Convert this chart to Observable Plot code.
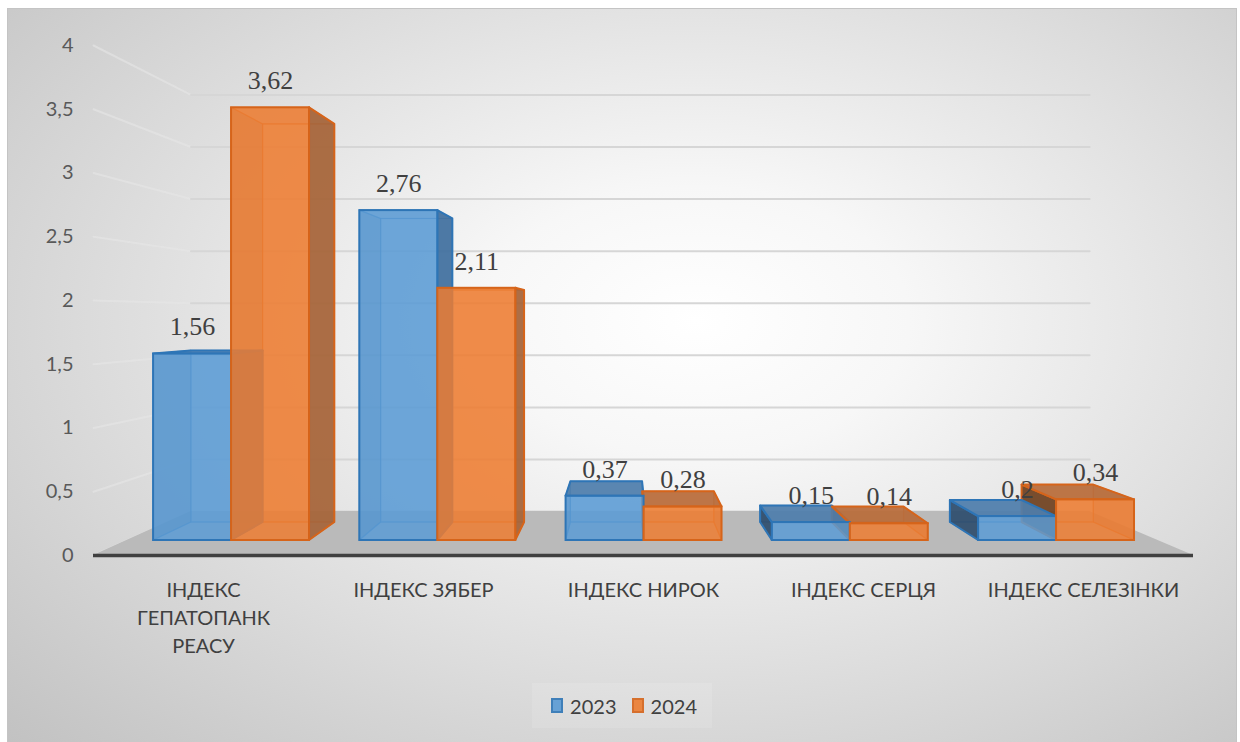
<!DOCTYPE html>
<html>
<head>
<meta charset="utf-8">
<script src="https://cdn.jsdelivr.net/npm/d3@7"></script>
<script src="https://cdn.jsdelivr.net/npm/@observablehq/plot@0.6"></script>
<style>
  html, body { margin: 0; padding: 0; width: 1240px; height: 742px; overflow: hidden; background: #ffffff; font-family: Lato, "Open Sans", sans-serif; }
  #bg { position: absolute; left: 7px; top: 8px; width: 1230px; height: 745px; box-sizing: border-box;
        border: 1.5px solid #c4c4c4;
        background: radial-gradient(ellipse farthest-corner at 56% 42%, #ffffff 0%, #f7f7f7 22%, #c1c1c1 100%); }
  #chart { position: absolute; left: 0; top: 0; width: 1240px; }
  #legend { position: absolute; left: 532px; top: 683px; width: 180px; height: 45px; box-sizing: border-box;
            background: rgba(255,255,255,0.12); display: flex; align-items: center; padding-left: 19px;
            font-family: Lato, sans-serif; font-size: 20px; color: #404040; }
  .sw { width: 11px; height: 11px; border: 2px solid; box-sizing: content-box; }
  .lab { margin-left: 7px; margin-right: 15px; }
</style>
</head>
<body>
<div id="bg"></div>
<div id="chart"></div>
<div id="legend"></div>
<script>
// ---------- data ----------
const categories = ["ІНДЕКС ГЕПАТОПАНКРЕАСУ", "ІНДЕКС ЗЯБЕР", "ІНДЕКС НИРОК", "ІНДЕКС СЕРЦЯ", "ІНДЕКС СЕЛЕЗІНКИ"];
const categoryLabels = ["ІНДЕКС\nГЕПАТОПАНК\nРЕАСУ", "ІНДЕКС ЗЯБЕР", "ІНДЕКС НИРОК", "ІНДЕКС СЕРЦЯ", "ІНДЕКС СЕЛЕЗІНКИ"];
const series = ["2023", "2024"];
const values2023 = [1.56, 2.76, 0.37, 0.15, 0.2];
const values2024 = [3.62, 2.11, 0.28, 0.14, 0.34];
const yTicks = [0, 0.5, 1, 1.5, 2, 2.5, 3, 3.5, 4];
const yTickLabels = ["0", "0,5", "1", "1,5", "2", "2,5", "3", "3,5", "4"];

// ---------- style / view ----------
const STYLE = {
  "2023": {fill: "#5b9bd5", stroke: "#2e75b6", left: "#2f4d6d", right: "#41709e", top: "#4f7eab"},
  "2024": {fill: "#ed7d31", stroke: "#d6641a", left: "#6f4122", right: "#a5643a", top: "#b86c3c"}
};
// perspective view: vanishing point in data coords and depth scale factors
const VIEW = {Xc: 2.42, Vc: 1.882, sFront: 0.9375, sBack: 0.8625, sWall: 0.817, barStart: 0.13, barWidth: 0.378};
const {Xc, Vc, sFront, sBack, sWall, barStart, barWidth} = VIEW;
const px = (X, s) => Xc + (X - Xc) * s;
const pv = (V, s) => Vc + (V - Vc) * s;
const nCat = categories.length;

// ---------- derived geometry (through data space) ----------
const bars = [];
categories.forEach((c, i) => {
  [values2023, values2024].forEach((vals, j) => {
    const xl = i + barStart + j * barWidth;
    bars.push({cat: c, series: series[j], i, j, xl, xr: xl + barWidth, v: vals[i]});
  });
});

const gridLeft = [], gridBack = [];
yTicks.forEach(v => {
  gridLeft.push({id: v, x: px(0, 1), y: pv(v, 1)}, {id: v, x: px(0, sWall), y: pv(v, sWall)});
  gridBack.push({id: v, x: px(0, sWall), y: pv(v, sWall)}, {id: v, x: px(nCat, sWall), y: pv(v, sWall)});
});
const floor = [
  {id: "f", y: pv(0, 1), x1: px(0, 1), x2: px(nCat, 1)},
  {id: "f", y: pv(0, sWall), x1: px(0, sWall), x2: px(nCat, sWall)}
];

const sideVis = [], sideHid = [], topVis = [], topHid = [], bottoms = [], fronts = [], backs = [];
bars.forEach((b, k) => {
  const st = STYLE[b.series];
  const side = (X, id, color) => [
    {id, x: px(X, sFront), y1: pv(0, sFront), y2: pv(b.v, sFront), fill: color, stroke: st.stroke},
    {id, x: px(X, sBack), y1: pv(0, sBack), y2: pv(b.v, sBack), fill: color, stroke: st.stroke}
  ];
  (b.xl > Xc ? sideVis : sideHid).push(...side(b.xl, "L" + k, st.left));
  (b.xr < Xc ? sideVis : sideHid).push(...side(b.xr, "R" + k, st.right));
  const top = [
    {id: "T" + k, y: pv(b.v, sFront), x1: px(b.xl, sFront), x2: px(b.xr, sFront), fill: st.top, stroke: st.stroke},
    {id: "T" + k, y: pv(b.v, sBack), x1: px(b.xl, sBack), x2: px(b.xr, sBack), fill: st.top, stroke: st.stroke}
  ];
  (b.v < Vc ? topVis : topHid).push(...top);
  bottoms.push(
    {id: "B" + k, y: pv(0, sFront), x1: px(b.xl, sFront), x2: px(b.xr, sFront), stroke: st.stroke},
    {id: "B" + k, y: pv(0, sBack), x1: px(b.xl, sBack), x2: px(b.xr, sBack), stroke: st.stroke}
  );
  fronts.push({x1: px(b.xl, sFront), x2: px(b.xr, sFront), y1: pv(0, sFront), y2: pv(b.v, sFront),
               fill: st.fill, stroke: st.stroke, label: String(b.v).replace(".", ","),
               lx: px((b.xl + b.xr) / 2, sFront), ly: pv(b.v, sFront)});
  backs.push({x1: px(b.xl, sBack), x2: px(b.xr, sBack), y1: pv(0, sBack), y2: pv(b.v, sBack),
              fill: st.fill, stroke: st.stroke});
});

const ticks = yTicks.map((v, k) => ({v, label: yTickLabels[k]}));
const cats = categoryLabels.map((t, i) => ({x: i + 0.5, t}));

const chart = Plot.plot({
  width: 1240,
  height: 680,
  marginLeft: 93,
  marginRight: 47,
  marginTop: 45,
  marginBottom: 125,
  style: {background: "transparent", overflow: "visible"},
  x: {domain: [0, nCat], axis: null},
  y: {domain: [0, 4], axis: null},
  color: {type: "identity"},
  marks: [
    Plot.line(gridLeft, {x: "x", y: "y", z: "id", stroke: "#e6e6e6", strokeOpacity: 0.6, strokeWidth: 2}),
    Plot.line(gridBack, {x: "x", y: "y", z: "id", stroke: "#d6d6d6", strokeWidth: 2}),
    Plot.areaX(floor, {y: "y", x1: "x1", x2: "x2", z: "id", fill: "#bababa", curve: "linear"}),
    Plot.ruleY([0], {x1: 0, x2: nCat, stroke: "#404040", strokeWidth: 3.5}),
    // hidden (see-through) parts
    Plot.rect(backs, {x1: "x1", x2: "x2", y1: "y1", y2: "y2", fill: "fill", fillOpacity: 0.2, stroke: "stroke", strokeOpacity: 0.55, strokeWidth: 1.2}),
    Plot.areaX(bottoms, {y: "y", x1: "x1", x2: "x2", z: "id", fill: "none", stroke: "stroke", strokeOpacity: 0.55, strokeWidth: 1.2, curve: "linear"}),
    Plot.areaY(sideHid, {x: "x", y1: "y1", y2: "y2", z: "id", fill: "fill", fillOpacity: 0.35, stroke: "stroke", strokeOpacity: 0.55, strokeWidth: 1.2, curve: "linear"}),
    Plot.areaX(topHid, {y: "y", x1: "x1", x2: "x2", z: "id", fill: "fill", fillOpacity: 0.2, stroke: "stroke", strokeOpacity: 0.55, strokeWidth: 1.2, curve: "linear"}),
    // visible faces
    Plot.areaY(sideVis, {x: "x", y1: "y1", y2: "y2", z: "id", fill: "fill", fillOpacity: 0.92, stroke: "stroke", strokeWidth: 2, curve: "linear"}),
    Plot.areaX(topVis, {y: "y", x1: "x1", x2: "x2", z: "id", fill: "fill", fillOpacity: 0.92, stroke: "stroke", strokeWidth: 2, curve: "linear"}),
    Plot.rect(fronts, {x1: "x1", x2: "x2", y1: "y1", y2: "y2", fill: "fill", fillOpacity: 0.85, stroke: "stroke", strokeWidth: 2}),
    // texts
    Plot.text(fronts, {x: "lx", y: "ly", text: "label", dy: -27, fontSize: 26, fontFamily: "Liberation Serif", fill: "#404040"}),
    Plot.text(ticks, {x: 0, y: "v", text: "label", dx: -20, textAnchor: "end", fontSize: 20, fontFamily: "Lato", fill: "#595959"}),
    Plot.text(cats, {x: "x", y: 0, text: "t", dy: 21, lineAnchor: "top", lineHeight: 1.42, fontSize: 20, fontFamily: "Lato", fill: "#404040"})
  ]
});
document.getElementById("chart").appendChild(chart);

// legend
const legend = document.getElementById("legend");
series.forEach(s => {
  const sw = document.createElement("div");
  sw.className = "sw";
  sw.style.borderColor = STYLE[s].stroke;
  sw.style.background = STYLE[s].fill;
  sw.style.opacity = 0.9;
  const lab = document.createElement("span");
  lab.className = "lab";
  lab.textContent = s;
  legend.appendChild(sw);
  legend.appendChild(lab);
});
</script>
</body>
</html>
